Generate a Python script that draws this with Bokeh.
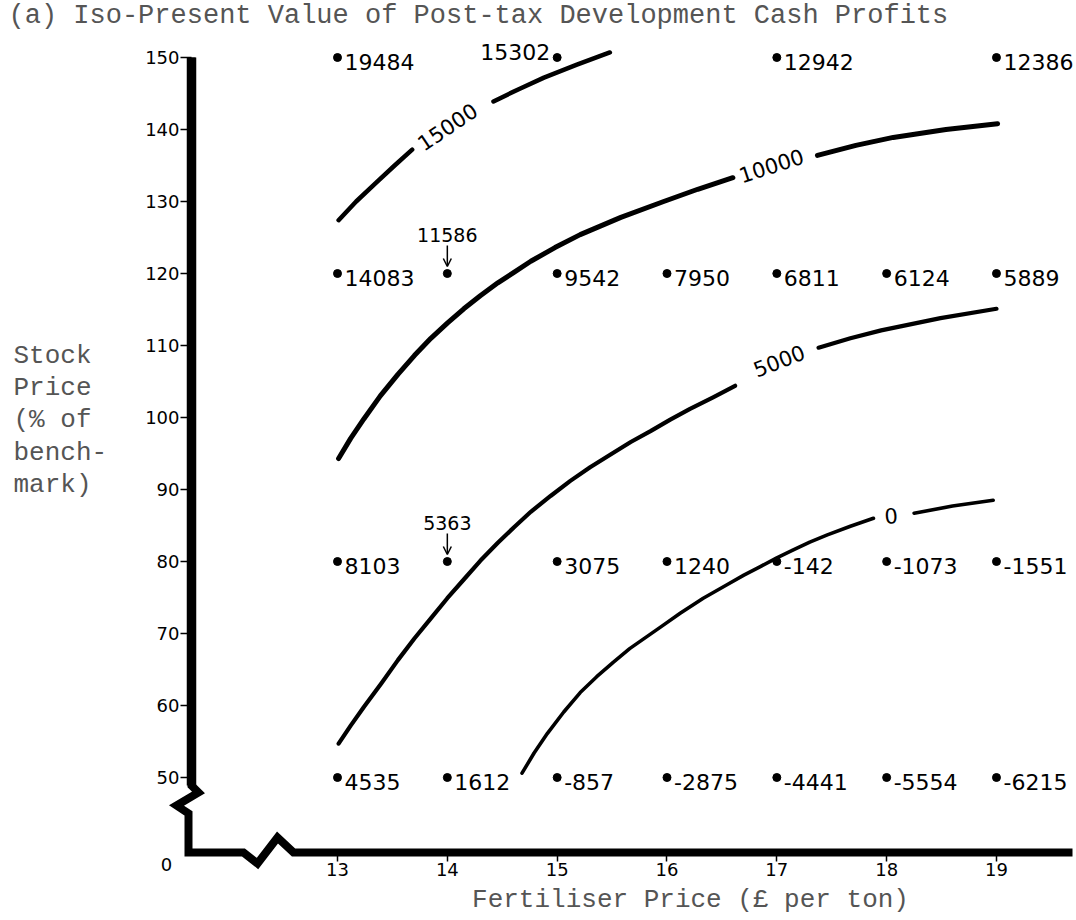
import math
from bokeh.plotting import figure
from bokeh.models import Range1d, FixedTicker, LinearAxis, OpenHead, Arrow
from bokeh.core.properties import value
from bokeh.embed import file_html
from bokeh.resources import INLINE

# ---------------- data ----------------
fert_price = [13, 14, 15, 16, 17, 18, 19]            # £ per ton
stock_price = [150, 120, 80, 50]                      # % of benchmark
pv_150 = [19484, None, 15302, None, 12942, None, 12386]
pv_120 = [14083, 11586, 9542, 7950, 6811, 6124, 5889]
pv_80 = [8103, 5363, 3075, 1240, -142, -1073, -1551]
pv_50 = [4535, 1612, -857, -2875, -4441, -5554, -6215]
pv_rows = [pv_150, pv_120, pv_80, pv_50]

x_ticks = [13, 14, 15, 16, 17, 18, 19]
y_ticks = [50, 60, 70, 80, 90, 100, 110, 120, 130, 140, 150]

# iso-present-value curves (NaN = gap where the label sits)
nan = float("nan")
iso_15000_x = [13.01, 13.17, 13.35, 13.52, 13.68, nan, 14.42, 14.65, 14.88, 15.18, 15.48]
iso_15000_y = [127.4, 130.0, 132.6, 135.0, 137.2, nan, 143.9, 145.6, 147.2, 149.0, 150.7]
iso_10000_x = [13.01, 13.12, 13.24, 13.39, 13.55, 13.70, 13.85, 14.00, 14.15, 14.30, 14.46, 14.61,
               14.76, 14.98, 15.21, 15.58, 15.97, 16.28, 16.60, nan, 17.37, 17.72, 18.06, 18.54, 19.01]
iso_10000_y = [94.3, 97.1, 99.8, 103.0, 106.0, 108.6, 111.0, 113.1, 115.1, 116.9, 118.7, 120.2,
               121.7, 123.6, 125.4, 127.8, 130.0, 131.7, 133.3, nan, 136.4, 137.8, 138.9, 140.0, 140.8]
iso_5000_x = [13.01, 13.12, 13.24, 13.40, 13.55, 13.70, 13.85, 14.00, 14.15, 14.30, 14.46, 14.61,
              14.76, 14.94, 15.12, 15.30, 15.49, 15.67, 15.85, 16.03, 16.21, 16.42, 16.62,
              nan, 17.38, 17.67, 17.95, 18.49, 19.0]
iso_5000_y = [54.7, 57.2, 59.8, 63.1, 66.3, 69.3, 72.1, 74.9, 77.5, 80.1, 82.6, 84.8,
              86.9, 89.1, 91.2, 93.1, 94.9, 96.6, 98.1, 99.7, 101.2, 102.8, 104.4,
              nan, 109.7, 111.0, 112.1, 113.8, 115.1]
iso_0_x = [14.68, 14.79, 14.91, 15.06, 15.21, 15.36, 15.51, 15.66, 15.82, 15.97, 16.12, 16.33,
           16.55, 16.70, 16.85, 17.00, 17.15, 17.30, 17.46, 17.67, 17.88, nan, 18.25, 18.60, 18.97]
iso_0_y = [50.6, 53.4, 56.1, 59.1, 61.8, 64.0, 66.0, 67.9, 69.6, 71.2, 72.8, 74.9,
           76.8, 78.1, 79.3, 80.5, 81.6, 82.7, 83.7, 84.9, 86.0, nan, 86.7, 87.7, 88.5]

iso_labels = ["15000", "10000", "5000", "0"]
iso_label_x = [14.00, 16.95, 17.02, 18.04]
iso_label_y = [140.4, 135.0, 107.9, 86.4]
iso_label_angle_deg = [34, 18, 21, 4]

# ---------------- geometry ----------------
W, H = 1076, 920
PX_X = 109.83   # pixels per £
PX_Y = 7.2      # pixels per % point
X0 = 13 - 337 / PX_X
X1 = X0 + W / PX_X
Y1 = 150 + 57 / PX_Y
Y0 = Y1 - H / PX_Y

def sx(px):
    return X0 + px / PX_X

def sy(py):
    return Y1 - py / PX_Y

AX_X = sx(191)   # position of the vertical axis
AX_Y = sy(852)   # position of the horizontal axis (stands for 0)

HAND = "DejaVu Sans"
TYPE = "Liberation Mono"
GREY = "#555555"

p = figure(width=W, height=H, x_range=Range1d(X0, X1), y_range=Range1d(Y0, Y1),
           min_border=0, toolbar_location=None, output_backend="svg",
           x_axis_type=None, y_axis_type=None)
p.outline_line_color = None
p.background_fill_color = "white"
p.border_fill_color = "white"

# axes (ticks + labels only; the thick broken line is drawn separately)
yaxis = LinearAxis(fixed_location=AX_X, ticker=FixedTicker(ticks=y_ticks))
yaxis.axis_line_color = None
yaxis.major_tick_out = 11
yaxis.major_tick_in = 0
yaxis.minor_tick_out = 0
yaxis.major_tick_line_width = 1.5
yaxis.major_label_standoff = 1
yaxis.major_label_text_font = HAND
yaxis.major_label_text_font_size = "18px"
yaxis.major_label_text_color = "black"
p.add_layout(yaxis, "left")

xaxis = LinearAxis(fixed_location=AX_Y, ticker=FixedTicker(ticks=x_ticks))
xaxis.axis_line_color = None
xaxis.major_tick_out = 9
xaxis.major_tick_in = 0
xaxis.minor_tick_out = 0
xaxis.major_tick_line_width = 1.5
xaxis.major_label_standoff = 1
xaxis.major_label_text_font = HAND
xaxis.major_label_text_font_size = "18px"
xaxis.major_label_text_color = "black"
p.add_layout(xaxis, "below")

# thick broken axes: break shapes given as pixel offsets from the corner
corner_px = [(0, -795), (0, -67), (7, -60), (-15, -47), (-3, -39), (-3, 0),
             (52, 0), (66, 11), (86, -15), (102, 0), (881, 0)]
axis_xs = [AX_X + dx / PX_X for dx, dy in corner_px]
axis_ys = [AX_Y - dy / PX_Y for dx, dy in corner_px]
p.line(axis_xs, axis_ys, line_width=8, line_color="black", line_join="miter")
p.line(axis_xs[:2], axis_ys[:2], line_width=9.5, line_color="black")

# iso-PV curves
for xs, ys, lw in [(iso_15000_x, iso_15000_y, 4.5), (iso_10000_x, iso_10000_y, 5),
                   (iso_5000_x, iso_5000_y, 4.2), (iso_0_x, iso_0_y, 3.6)]:
    p.line(xs, ys, line_width=lw, line_color="black", line_cap="round", line_join="round")

p.text(x=iso_label_x, y=iso_label_y, text=iso_labels,
       angle=[math.radians(a) for a in iso_label_angle_deg],
       text_font=value(HAND), text_font_size="21px", text_align="center",
       text_baseline="middle", text_color="black")

# points and their values
left_labelled = {(150, 15)}
arrow_labelled = {(120, 14), (80, 14)}
pt_x, pt_y = [], []
r_x, r_y, r_t = [], [], []
l_x, l_y, l_t = [], [], []
a_x, a_y, a_t = [], [], []
for yv, row in zip(stock_price, pv_rows):
    for xv, v in zip(fert_price, row):
        if v is None:
            continue
        pt_x.append(xv)
        pt_y.append(yv)
        if (yv, xv) in left_labelled:
            l_x.append(xv); l_y.append(yv); l_t.append(str(v))
        elif (yv, xv) in arrow_labelled:
            a_x.append(xv); a_y.append(yv); a_t.append(str(v))
        else:
            r_x.append(xv); r_y.append(yv); r_t.append(str(v))

p.scatter(pt_x, pt_y, size=8, color="black")
p.text(x=r_x, y=r_y, text=r_t, x_offset=7, y_offset=-4, text_font=value(HAND),
       text_font_size="22px", text_align="left", text_baseline="top", text_color="black")
p.text(x=l_x, y=l_y, text=l_t, x_offset=-7, y_offset=-6, text_font=value(HAND),
       text_font_size="22px", text_align="right", text_baseline="middle", text_color="black")
p.text(x=a_x, y=a_y, text=a_t, y_offset=-39, text_font=value(HAND),
       text_font_size="19px", text_align="center", text_baseline="middle", text_color="black")
for xv, yv in zip(a_x, a_y):
    p.add_layout(Arrow(end=OpenHead(size=8, line_width=1.5, line_color="black"),
                       x_start=xv, y_start=yv + 28 / PX_Y, x_end=xv, y_end=yv + 7 / PX_Y,
                       line_width=1.5, line_color="black"))

# origin label
p.text(x=[sx(166)], y=[sy(864)], text=["0"], text_font=value(HAND), text_font_size="18px",
       text_align="center", text_baseline="middle", text_color="black")

# typewriter texts
p.text(x=[sx(8)], y=[sy(15)], text=["(a) Iso-Present Value of Post-tax Development Cash Profits"],
       text_font=value(TYPE), text_font_size="27px", text_align="left",
       text_baseline="middle", text_color=GREY)
ylab = ["Stock", "Price", "(% of", "bench-", "mark)"]
p.text(x=[sx(13)] * 5, y=[sy(v) for v in [355, 387, 419, 452, 484]], text=ylab,
       text_font=value(TYPE), text_font_size="26px", text_align="left",
       text_baseline="middle", text_color=GREY)
p.text(x=[sx(690)], y=[sy(899)], text=["Fertiliser Price (£ per ton)"],
       text_font=value(TYPE), text_font_size="26px", text_align="center",
       text_baseline="middle", text_color=GREY)

open("out.html", "w").write(file_html(p, INLINE))
